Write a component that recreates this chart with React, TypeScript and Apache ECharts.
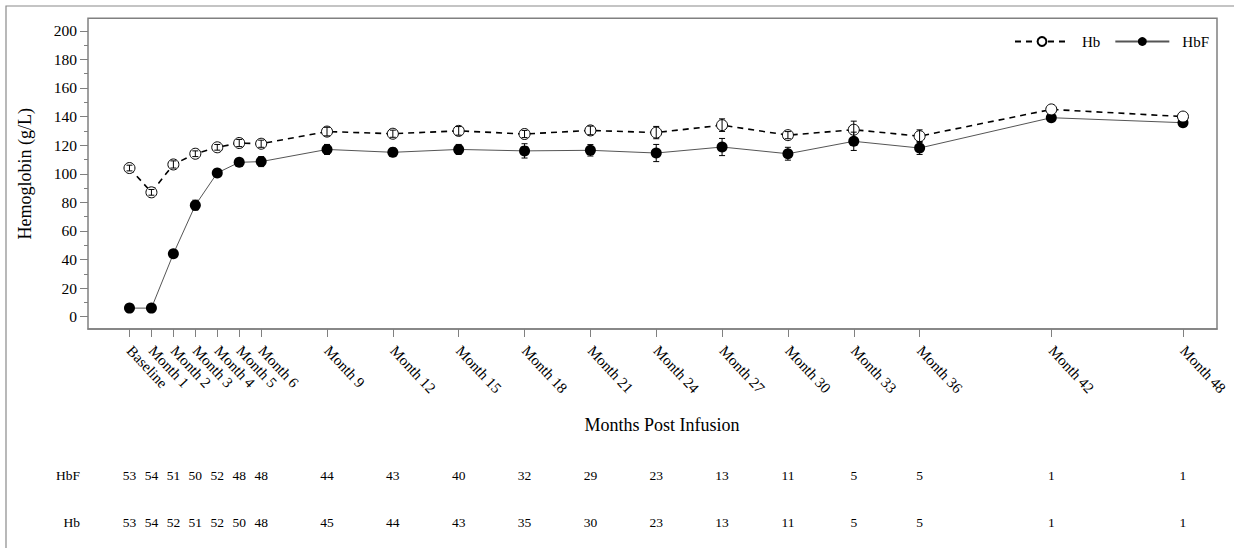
import React, { useEffect, useRef } from "react";
import * as echarts from "echarts";

const months = [0, 1, 2, 3, 4, 5, 6, 9, 12, 15, 18, 21, 24, 27, 30, 33, 36, 42, 48];
const monthLabels = [
  "Baseline", "Month 1", "Month 2", "Month 3", "Month 4", "Month 5", "Month 6",
  "Month 9", "Month 12", "Month 15", "Month 18", "Month 21", "Month 24", "Month 27",
  "Month 30", "Month 33", "Month 36", "Month 42", "Month 48",
];
const hbMean = [104, 87, 106.5, 114, 118.5, 121.5, 121, 129.5, 128, 130, 127.8, 130.3, 128.8, 134, 127, 130.8, 126.3, 145, 140];
const hbErr = [2, 2, 2.5, 2, 2, 2.5, 2.5, 3, 2.5, 3, 2.5, 3, 4.3, 4.4, 2.5, 6, 4.4, 0, 0];
const hbfMean = [6, 6, 44, 78, 100.6, 108, 108.5, 117, 115, 117, 116, 116.4, 114.5, 118.7, 114, 122.7, 118, 139.2, 135.7];
const hbfErr = [1, 1, 2, 3.5, 2.5, 2.5, 3.5, 3.5, 3, 3.5, 5, 4, 6, 6, 4.5, 6.4, 4.5, 0, 0];
const nHbF = [53, 54, 51, 50, 52, 48, 48, 44, 43, 40, 32, 29, 23, 13, 11, 5, 5, 1, 1];
const nHb = [53, 54, 52, 51, 52, 50, 48, 45, 44, 43, 35, 30, 23, 13, 11, 5, 5, 1, 1];
const yMin = 0;
const yMax = 200;
const yStep = 20;

const FONT = "Liberation Serif";

export default function App() {
  const ref = useRef<HTMLDivElement>(null);

  useEffect(() => {
    document.body.style.margin = "0";
    if (!ref.current) return;
    const chart = echarts.init(ref.current, null, { renderer: "svg" });

    const errRender = (params: any, api: any) => {
      const x = api.value(0);
      const m = api.value(1);
      const e = api.value(2);
      if (!e) return { type: "group", children: [] };
      const top = api.coord([x, m + e]);
      const bot = api.coord([x, m - e]);
      const cw = 3;
      const st = { stroke: "#000", lineWidth: 1 };
      return {
        type: "group",
        children: [
          { type: "line", shape: { x1: top[0], y1: top[1], x2: bot[0], y2: bot[1] }, style: st },
          { type: "line", shape: { x1: top[0] - cw, y1: top[1], x2: top[0] + cw, y2: top[1] }, style: st },
          { type: "line", shape: { x1: bot[0] - cw, y1: bot[1], x2: bot[0] + cw, y2: bot[1] }, style: st },
        ],
      };
    };

    const tableRender = (params: any, api: any) => {
      const px = api.coord([api.value(0), 0])[0];
      const ts = { fontSize: 13.5, fontFamily: FONT, fill: "#000", align: "center", verticalAlign: "middle" };
      return {
        type: "group",
        children: [
          { type: "text", x: px, y: 475, style: { ...ts, text: String(api.value(1)) } },
          { type: "text", x: px, y: 522, style: { ...ts, text: String(api.value(2)) } },
        ],
      };
    };

    chart.setOption({
      animation: false,
      backgroundColor: "#fff",
      textStyle: { fontFamily: FONT },
      grid: { left: 88, right: 17, top: 30.8, bottom: 231.3, containLabel: false },
      legend: {
        show: true,
        data: ["Hb", "HbF"],
        right: 20,
        top: 29,
        itemWidth: 54,
        itemHeight: 11,
        itemGap: 14,
        textStyle: { fontSize: 15, fontFamily: FONT, color: "#000", padding: [0, 0, 0, 8] },
      },
      xAxis: {
        type: "value",
        min: -1.89,
        max: 49.55,
        offset: 12.3,
        axisLine: { show: true, onZero: false, lineStyle: { color: "#808080", width: 1.5 } },
        axisTick: { show: true, customValues: months, length: 8, lineStyle: { color: "#808080", width: 1 } },
        axisLabel: {
          show: true,
          customValues: months,
          rotate: -47,
          margin: 19,
          fontSize: 15,
          fontFamily: FONT,
          color: "#000",
          formatter: (v: number) => {
            const i = months.indexOf(v);
            return i >= 0 ? monthLabels[i] : "";
          },
        },
        splitLine: { show: false },
      },
      yAxis: {
        type: "value",
        min: yMin,
        max: yMax,
        interval: yStep,
        name: "Hemoglobin (g/L)",
        nameLocation: "middle",
        nameGap: 54,
        nameTextStyle: { fontSize: 18, fontFamily: FONT, color: "#000" },
        axisLine: { show: false, onZero: false },
        axisTick: { show: true, length: 8, lineStyle: { color: "#808080", width: 1 } },
        minorTick: { show: true, splitNumber: 2, length: 4, lineStyle: { color: "#808080", width: 1 } },
        axisLabel: { fontSize: 15.5, fontFamily: FONT, color: "#000", margin: 11 },
        splitLine: { show: false },
        minorSplitLine: { show: false },
      },
      graphic: [
        { type: "rect", shape: { x: 6, y: 6, width: 1300, height: 600 }, style: { fill: "none", stroke: "#8a8a8a", lineWidth: 1.2 }, silent: true },
        { type: "rect", shape: { x: 88, y: 18.3, width: 1129, height: 310.7 }, style: { fill: "none", stroke: "#808080", lineWidth: 1.5 }, silent: true, z: 10 },
        { type: "text", x: 662, y: 425, style: { text: "Months Post Infusion", fontSize: 18, fontFamily: FONT, fill: "#000", align: "center", verticalAlign: "middle" } },
        { type: "text", x: 80, y: 475, style: { text: "HbF", fontSize: 13.5, fontFamily: FONT, fill: "#000", align: "right", verticalAlign: "middle" } },
        { type: "text", x: 80, y: 522, style: { text: "Hb", fontSize: 13.5, fontFamily: FONT, fill: "#000", align: "right", verticalAlign: "middle" } },
      ],
      series: [
        {
          name: "HbF",
          type: "line",
          data: months.map((m, i) => [m, hbfMean[i]]),
          symbol: "circle",
          symbolSize: 11,
          lineStyle: { color: "#555", width: 1 },
          itemStyle: { color: "#000", borderColor: "#000", borderWidth: 0 },
          z: 2,
        },
        {
          name: "Hb",
          type: "line",
          data: months.map((m, i) => [m, hbMean[i]]),
          symbol: "circle",
          symbolSize: 11,
          lineStyle: { color: "#000", width: 1.6, type: [6, 5] },
          itemStyle: { color: "#fff", borderColor: "#000", borderWidth: 1 },
          z: 2,
        },
        {
          name: "HbF err",
          type: "custom",
          data: months.map((m, i) => [m, hbfMean[i], hbfErr[i]]),
          encode: { x: 0, y: 1 },
          renderItem: errRender,
          z: 5,
        },
        {
          name: "Hb err",
          type: "custom",
          data: months.map((m, i) => [m, hbMean[i], hbErr[i]]),
          encode: { x: 0, y: 1 },
          renderItem: errRender,
          z: 5,
        },
        {
          name: "table",
          type: "custom",
          data: months.map((m, i) => [m, nHbF[i], nHb[i]]),
          encode: { x: 0 },
          renderItem: tableRender,
          clip: false,
          z: 5,
        },
      ],
    });

    return () => chart.dispose();
  }, []);

  return (
    <div
      ref={ref}
      style={{ position: "absolute", left: 0, top: 0, width: 1234, height: 548 }}
    />
  );
}
